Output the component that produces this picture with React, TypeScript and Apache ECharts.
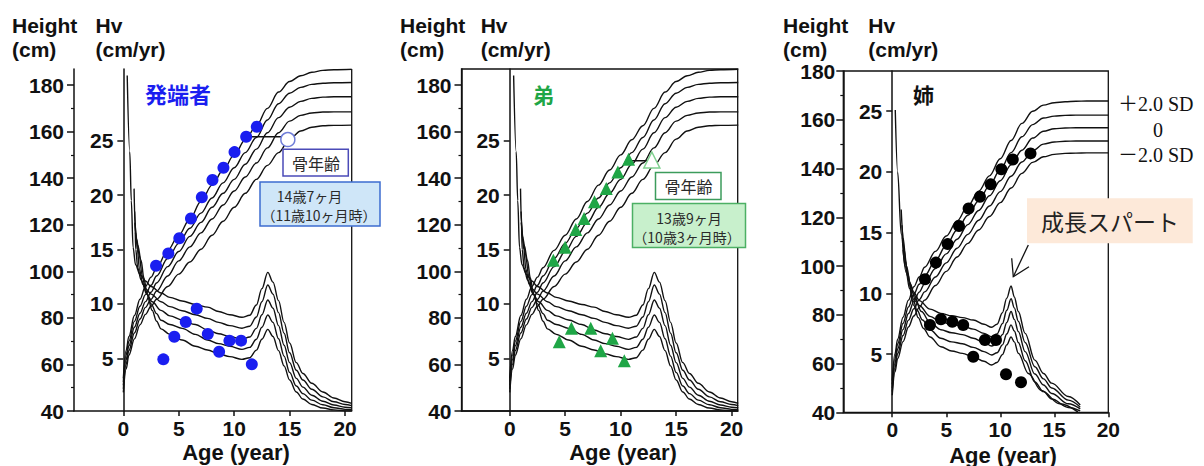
import React, { useEffect, useRef } from 'react';
import * as echarts from 'echarts';

// ---- tick labels ----
const AGE_TICKS = [0, 5, 10, 15, 20];
const HEIGHT_TICKS = [40, 60, 80, 100, 120, 140, 160, 180];
const HV_TICKS = [5, 10, 15, 20, 25];

// ---- boys reference height curves (cm) ----
const BOY_H_AGES = [0, 0.25, 0.5, 1, 1.5, 2, 2.5, 3, 4, 5, 6, 7, 8, 9, 10, 11, 12, 13, 14, 15, 16, 17, 18, 19, 20.6];
const BOY_H_P2 = [54, 66, 72, 81, 88, 93.5, 97.5, 101.5, 109, 115.5, 122.5, 130, 137, 143.5, 150, 156.5, 162.5, 170, 177, 181.5, 184, 185.5, 186.3, 186.6, 186.8];
const BOY_H_P1 = [52.5, 64, 70, 78.5, 85, 90, 94, 98, 105.5, 112, 118.5, 125, 131.5, 138, 144.5, 151, 157.5, 165, 172, 176.5, 179, 180.3, 180.8, 181, 181.1];
const BOY_H_0 = [51, 62, 68, 76, 82, 87, 91, 95, 102, 108.5, 115, 121, 127.5, 133.5, 139.5, 146, 152.5, 159.5, 166, 170.5, 173, 174.3, 174.8, 175, 175];
const BOY_H_M1 = [49.5, 60, 66, 73.5, 79.5, 84.5, 88, 91.5, 98, 104.5, 110.5, 116.5, 122.5, 128.5, 134.5, 140.5, 146.5, 153, 159.5, 164.5, 167, 168, 168.4, 168.5, 168.5];
const BOY_H_M2 = [48, 58, 64, 71, 77, 81.5, 85, 88, 93.5, 98.8, 104, 109.5, 115.5, 121.5, 127.5, 133.5, 139.5, 145.5, 151, 156.8, 160.3, 161.9, 162.5, 162.7, 162.8];

// ---- boys reference height velocity curves [age, cm/yr] ----
const BOY_V_P2 = [[0.35, 31], [0.58, 24], [0.72, 19.5], [0.88, 15.2], [1.1, 13.6], [1.5, 12.7], [2, 12.1], [2.5, 11.6], [3.4, 11.0], [4.2, 10.6], [5.3, 10.26], [6.5, 9.95], [7.6, 9.7], [8.6, 9.3], [9.6, 9.0], [10.7, 8.77], [11.4, 8.95], [12, 9.9], [12.5, 11.4], [13.03, 12.9], [13.5, 12.0], [14, 10.3], [14.5, 8.3], [15, 6.4], [15.6, 4.6], [16.2, 3.6], [17, 2.7], [18, 1.9], [19, 1.35], [20, 1.0], [20.6, 0.85]];
const BOY_V_P1 = [[0.97, 20.6], [1.05, 17.5], [1.12, 15], [1.3, 13.3], [1.6, 12.2], [2, 11.4], [2.5, 10.9], [3.4, 10.2], [4.2, 9.75], [5.3, 9.37], [6.5, 9.0], [7.6, 8.67], [8.6, 8.3], [9.6, 8.0], [10.7, 7.76], [11.4, 7.95], [12, 8.8], [12.5, 10.2], [13.03, 11.74], [13.5, 10.9], [14, 9.2], [14.5, 7.3], [15, 5.5], [15.6, 3.9], [16.2, 3.0], [17, 2.15], [18, 1.45], [19, 1.0], [20, 0.75], [20.6, 0.65]];
const BOY_V_0 = [[1.02, 18.5], [1.15, 16.2], [1.27, 15], [1.45, 13.2], [1.75, 11.8], [2.1, 10.9], [2.6, 10.2], [3.4, 9.4], [4.2, 8.9], [5.3, 8.52], [6.5, 8.1], [7.6, 7.6], [8.6, 7.25], [9.6, 7.0], [10.7, 6.74], [11.4, 6.95], [12, 7.75], [12.5, 9.0], [13.03, 10.36], [13.5, 9.6], [14, 8.0], [14.5, 6.2], [15, 4.6], [15.6, 3.15], [16.2, 2.35], [17, 1.6], [18, 1.05], [19, 0.7], [20, 0.5], [20.6, 0.45]];
const BOY_V_M1 = [[1.05, 17.5], [1.2, 16], [1.43, 14.5], [1.7, 12.6], [2.05, 11.1], [2.5, 10.0], [3.0, 9.1], [3.4, 8.5], [4.2, 8.1], [5.3, 7.75], [6.5, 7.2], [7.6, 6.68], [8.6, 6.35], [9.6, 6.1], [10.7, 5.82], [11.4, 6.0], [12, 6.75], [12.5, 7.85], [13.03, 8.98], [13.5, 8.3], [14, 6.8], [14.5, 5.2], [15, 3.7], [15.6, 2.45], [16.2, 1.75], [17, 1.15], [18, 0.72], [19, 0.45], [20, 0.3], [20.6, 0.28]];
const BOY_V_M2 = [[1.1, 16.5], [1.3, 15.4], [1.6, 14.0], [1.85, 12.4], [2.15, 10.9], [2.6, 9.4], [3.0, 8.4], [3.4, 7.7], [4.2, 7.2], [5.3, 6.68], [6.5, 6.1], [7.6, 5.76], [8.6, 5.4], [9.6, 5.15], [10.7, 4.9], [11.4, 5.05], [12, 5.75], [12.5, 6.75], [13.03, 7.66], [13.5, 7.0], [14, 5.7], [14.5, 4.3], [15, 3.0], [15.6, 1.9], [16.2, 1.25], [17, 0.75], [18, 0.42], [19, 0.25], [20, 0.16], [20.6, 0.15]];

// ---- girls reference height curves (cm) ----
const GIRL_H_AGES = [0, 0.25, 0.5, 1, 1.5, 2, 2.5, 3, 4, 5, 6, 7, 8, 9, 10, 11, 12, 13, 14, 15, 16, 17, 18, 20];
const GIRL_H_P2 = [53, 64, 70, 79, 86, 91.5, 95.5, 99.5, 106, 112.3, 118.5, 124.6, 130.7, 137, 144, 151.5, 158.5, 163.5, 166, 167, 167.4, 167.6, 167.7, 167.7];
const GIRL_H_P1 = [51.5, 62, 68, 76.5, 83.2, 88.5, 92.5, 96, 102.3, 108.5, 114.8, 120.8, 126.8, 133, 139.5, 146.5, 153, 158, 160.7, 161.5, 161.8, 161.9, 161.9, 161.9];
const GIRL_H_0 = [50, 60, 66, 74, 80.5, 85.5, 89.3, 92.8, 99, 105, 111, 117, 122.8, 128.8, 135, 141.5, 147.5, 152.5, 155.3, 156.3, 156.6, 156.7, 156.7, 156.7];
const GIRL_H_M1 = [48.5, 58.2, 64, 71.5, 77.8, 82.5, 86.2, 89.4, 95.5, 101.3, 107.3, 113, 118.8, 124.6, 130.5, 136.8, 142.7, 147.3, 150, 150.9, 151.2, 151.3, 151.3, 151.3];
const GIRL_H_M2 = [47, 56.5, 62, 69, 75, 79.5, 83, 86, 92, 97.8, 103.7, 109.3, 114.8, 120.3, 126, 132, 138, 142.5, 144.8, 145.8, 146.2, 146.3, 146.4, 146.4];

// ---- girls reference height velocity curves [age, cm/yr] ----
const GIRL_V_P2 = [[0.28, 25.1], [0.5, 20], [0.83, 14.9], [1.2, 12.2], [1.6, 10.9], [2, 10.1], [2.5, 9.4], [3.5, 8.7], [4.5, 8.35], [5.5, 8.15], [6.5, 8.0], [7.5, 7.8], [8.5, 7.45], [9.2, 7.2], [9.7, 7.45], [10.2, 8.4], [10.6, 9.6], [11.0, 10.6], [11.3, 9.7], [11.67, 8.5], [12.3, 6.7], [13.2, 4.5], [14, 3.4], [14.76, 2.6], [16.3, 1.5], [17.4, 0.8]];
const GIRL_V_P1 = [[0.83, 16.9], [1.0, 14.6], [1.3, 12.3], [1.7, 10.7], [2, 9.9], [2.5, 9.0], [3.5, 8.1], [4.5, 7.65], [5.5, 7.45], [6.5, 7.3], [7.5, 7.05], [8.5, 6.7], [9.2, 6.43], [9.7, 6.65], [10.2, 7.5], [10.6, 8.6], [11.0, 9.55], [11.3, 8.8], [11.67, 7.7], [12.3, 5.95], [13.2, 3.95], [14, 2.95], [14.76, 2.2], [16.3, 1.2], [17.4, 0.62]];
const GIRL_V_0 = [[0.9, 15.6], [1.1, 13.6], [1.4, 11.7], [1.8, 10.2], [2.2, 9.3], [2.7, 8.5], [3.5, 7.6], [4.5, 7.0], [5.5, 6.75], [6.5, 6.6], [7.5, 6.3], [8.5, 5.95], [9.2, 5.66], [9.7, 5.85], [10.2, 6.6], [10.6, 7.6], [11.0, 8.5], [11.3, 7.85], [11.67, 6.85], [12.3, 5.2], [13.2, 3.35], [14, 2.45], [14.76, 1.75], [16.3, 0.9], [17.4, 0.48]];
const GIRL_V_M1 = [[0.95, 14.6], [1.2, 12.7], [1.5, 11.1], [1.9, 9.6], [2.3, 8.6], [2.8, 7.8], [3.5, 7.0], [4.5, 6.3], [5.5, 6.0], [6.5, 5.85], [7.5, 5.55], [8.5, 5.2], [9.2, 4.92], [9.7, 5.1], [10.2, 5.75], [10.6, 6.65], [11.0, 7.4], [11.3, 6.9], [11.67, 5.95], [12.3, 4.45], [13.2, 2.7], [14, 1.9], [14.76, 1.3], [16.3, 0.6], [17.4, 0.32]];
const GIRL_V_M2 = [[1.0, 13.6], [1.3, 11.7], [1.6, 10.4], [2.0, 9.0], [2.4, 8.0], [2.9, 7.1], [3.5, 6.4], [4.5, 5.6], [5.5, 5.25], [6.5, 5.05], [7.5, 4.75], [8.5, 4.4], [9.2, 4.09], [9.7, 4.3], [10.2, 4.95], [10.6, 5.75], [11.0, 6.4], [11.3, 6.0], [11.67, 5.06], [12.6, 3.4], [13.8, 2.0], [15.5, 0.9], [17.2, 0.22]];

// ---- measured points ----
const PROBAND_HEIGHT = [[2.95, 102.4], [4.06, 107.7], [5.05, 114.2], [6.1, 122.7], [7.08, 131.8], [8.04, 139.2], [9.03, 144.5], [10.03, 151.2], [11.08, 157.8], [12.04, 162.1]];
const PROBAND_HV = [[3.61, 4.9], [4.6, 6.98], [5.63, 8.33], [6.62, 9.56], [7.62, 7.23], [8.64, 5.6], [9.57, 6.62], [10.62, 6.62], [11.59, 4.44]];
const PROBAND_BONE = [[14.84, 156.6]];
const PROBAND_BONE_LINK = [[11.08, 157.8], [14.4, 157.8]];

const BROTHER_HEIGHT = [[3.93, 104.8], [4.99, 110.3], [5.95, 118.0], [6.7, 122.7], [7.64, 129.9], [8.7, 135.6], [9.75, 142.7], [10.71, 148.1]];
const BROTHER_HV = [[4.46, 6.52], [5.56, 7.75], [7.3, 7.75], [8.2, 5.69], [9.26, 6.84], [10.33, 4.78]];
const BROTHER_BONE = [[12.81, 147.8]];
const BROTHER_BONE_LINK = [[10.71, 147.5], [12.5, 147.5]];

const SISTER_HEIGHT = [[3.03, 94.6], [4.04, 101.4], [5.13, 109.0], [6.18, 116.4], [7.07, 123.6], [8.12, 128.4], [9.11, 133.5], [10.1, 139.7], [11.16, 143.7], [12.8, 146.2]];
const SISTER_HV = [[3.49, 7.39], [4.51, 7.86], [5.56, 7.66], [6.57, 7.39], [7.5, 4.78], [8.58, 6.15], [9.6, 6.15], [10.53, 3.33], [11.92, 2.67]];

const SANS = "'Liberation Sans', Arial, Helvetica, sans-serif";
const JP = "'Noto Sans CJK JP', 'Liberation Sans', sans-serif";
const SERIF = "'Liberation Serif', 'Noto Sans CJK JP', serif";
const INK = '#111';
const BLUE = '#1a1ef0';
const GREEN = '#1fa646';

const zip = (ages: number[], vals: number[]) => ages.map((a, i) => [a, vals[i]]);

type Panel = {
  left: number; top: number; width: number; height: number;
  xMin: number; xMax: number; hMax: number; hvMin: number; hvMax: number;
  frame: boolean; hMargin: number;
  hCurves: number[][][]; vCurves: number[][][];
};

const PANELS: Panel[] = [
  {
    left: 74, top: 69, width: 277.7, height: 342, xMin: -4.45, xMax: 20.6, hMax: 186.9, hvMin: 0.15, hvMax: 31.6,
    frame: false, hMargin: 10,
    hCurves: [BOY_H_P2, BOY_H_P1, BOY_H_0, BOY_H_M1, BOY_H_M2].map((v) => zip(BOY_H_AGES, v)),
    vCurves: [BOY_V_P2, BOY_V_P1, BOY_V_0, BOY_V_M1, BOY_V_M2],
  },
  {
    left: 461.5, top: 69, width: 276.2, height: 342, xMin: -4.35, xMax: 20.55, hMax: 186.9, hvMin: 0.15, hvMax: 31.6,
    frame: true, hMargin: 10,
    hCurves: [BOY_H_P2, BOY_H_P1, BOY_H_0, BOY_H_M1, BOY_H_M2].map((v) => zip(BOY_H_AGES, v)),
    vCurves: [BOY_V_P2, BOY_V_P1, BOY_V_0, BOY_V_M1, BOY_V_M2],
  },
  {
    left: 843.3, top: 71, width: 265, height: 341.3, xMin: -4.53, xMax: 20, hMax: 180, hvMin: 0.2, hvMax: 28.31,
    frame: true, hMargin: 8,
    hCurves: [GIRL_H_P2, GIRL_H_P1, GIRL_H_0, GIRL_H_M1, GIRL_H_M2].map((v) => zip(GIRL_H_AGES, v)),
    vCurves: [GIRL_V_P2, GIRL_V_P1, GIRL_V_0, GIRL_V_M1, GIRL_V_M2],
  },
];

function buildOption() {
  const lineStyle = { color: INK, width: 1.5 };
  const label = { color: INK, fontSize: 21, fontWeight: 'bold' as const, fontFamily: SANS };
  const grid: any[] = [];
  const xAxis: any[] = [];
  const yAxis: any[] = [];
  const series: any[] = [];

  PANELS.forEach((p, i) => {
    grid.push({
      left: p.left, top: p.top, width: p.width, height: p.height,
      show: p.frame, borderColor: INK, borderWidth: 1.3, backgroundColor: 'transparent',
    });
    const zeroX = p.left + ((0 - p.xMin) / (p.xMax - p.xMin)) * p.width;
    xAxis.push({
      gridIndex: i, type: 'value', min: p.xMin, max: p.xMax,
      axisLine: { show: true, onZero: false, lineStyle },
      axisTick: { show: true, customValues: AGE_TICKS, length: 5, lineStyle },
      axisLabel: { ...label, customValues: AGE_TICKS, margin: 7 },
      splitLine: { show: false },
    });
    yAxis.push({
      gridIndex: i, type: 'value', min: 40, max: p.hMax, interval: 20, position: 'left',
      axisLine: { show: true, onZero: false, lineStyle },
      axisTick: { show: true, customValues: HEIGHT_TICKS, length: 7, lineStyle },
      minorTick: { show: true, splitNumber: 2, length: 3, lineStyle: { color: INK, width: 1.2 } },
      axisLabel: { ...label, customValues: HEIGHT_TICKS, margin: p.hMargin },
      splitLine: { show: false }, minorSplitLine: { show: false },
    });
    yAxis.push({
      gridIndex: i, type: 'value', min: p.hvMin, max: p.hvMax, position: 'left',
      offset: -(zeroX - p.left),
      axisLine: { show: true, onZero: false, lineStyle },
      axisTick: { show: true, customValues: HV_TICKS, length: 6, lineStyle },
      axisLabel: { ...label, customValues: HV_TICKS, margin: 10 },
      splitLine: { show: false },
    });
    const hIdx = i * 2;
    const vIdx = i * 2 + 1;
    p.hCurves.forEach((d) => series.push({
      type: 'line', xAxisIndex: i, yAxisIndex: hIdx, data: d, symbol: 'none', smooth: 0.35,
      smoothMonotone: 'x', lineStyle: { color: INK, width: 1.4 }, silent: true, z: 2,
    }));
    p.vCurves.forEach((d) => series.push({
      type: 'line', xAxisIndex: i, yAxisIndex: vIdx, data: d, symbol: 'none', smooth: 0.35,
      smoothMonotone: 'x', lineStyle: { color: INK, width: 1.4 }, silent: true, z: 2,
    }));
  });

  const dots = (i: number, y: number, data: number[][], color: string, symbol: string, size: number) => ({
    type: 'scatter', xAxisIndex: i, yAxisIndex: y, data, symbol, symbolSize: size,
    itemStyle: { color, opacity: 1 }, silent: true, z: 5,
  });
  const link = (i: number, data: number[][]) => ({
    type: 'line', xAxisIndex: i, yAxisIndex: i * 2, data, symbol: 'none',
    lineStyle: { color: INK, width: 1.4 }, silent: true, z: 4,
  });

  series.push(dots(0, 0, PROBAND_HEIGHT, BLUE, 'circle', 12));
  series.push(dots(0, 1, PROBAND_HV, BLUE, 'circle', 12));
  series.push(link(0, PROBAND_BONE_LINK));
  series.push({
    type: 'scatter', xAxisIndex: 0, yAxisIndex: 0, data: PROBAND_BONE, symbol: 'circle', symbolSize: 14,
    itemStyle: { color: '#fff', borderColor: '#6f7dd8', borderWidth: 1.5, opacity: 1 }, silent: true, z: 6,
  });

  series.push(dots(1, 2, BROTHER_HEIGHT, GREEN, 'triangle', 13));
  series.push(dots(1, 3, BROTHER_HV, GREEN, 'triangle', 13));
  series.push(link(1, BROTHER_BONE_LINK));
  series.push({
    type: 'scatter', xAxisIndex: 1, yAxisIndex: 2, data: BROTHER_BONE, symbol: 'triangle', symbolSize: 16,
    itemStyle: { color: '#fff', borderColor: '#7fd08f', borderWidth: 1.5, opacity: 1 }, silent: true, z: 6,
  });

  series.push(dots(2, 4, SISTER_HEIGHT, '#000', 'circle', 12));
  series.push(dots(2, 5, SISTER_HV, '#000', 'circle', 12));

  const txt = (x: number, y: number, text: string, o: any = {}) => ({
    type: 'text', x, y, z: 101, silent: true,
    style: {
      text, fill: o.fill || INK, fontSize: o.size || 21, fontWeight: o.weight || 'bold',
      fontFamily: o.family || SANS, align: o.align || 'left', verticalAlign: 'middle',
    },
  });
  const box = (x: number, y: number, w: number, h: number, fill: string, stroke?: string) => ({
    type: 'rect', z: 100, silent: true, shape: { x, y, width: w, height: h },
    style: { fill, stroke: stroke || 'none', lineWidth: stroke ? 1.5 : 0 },
  });
  const boxText = (x: number, y: number, text: string, size = 14) =>
    txt(x, y, text, { size, weight: 'normal', family: JP, align: 'center', fill: '#2a2a2a' });

  const graphic: any[] = [
    // axis titles
    txt(12, 25, 'Height'), txt(12, 49, '(cm)'), txt(95.5, 25, 'Hv'), txt(95.5, 49, '(cm/yr)'),
    txt(400, 25, 'Height'), txt(400, 49, '(cm)'), txt(480.7, 25, 'Hv'), txt(480.7, 49, '(cm/yr)'),
    txt(783, 25, 'Height'), txt(783, 49, '(cm)'), txt(868.3, 25, 'Hv'), txt(868.3, 49, '(cm/yr)'),
    txt(236, 452, 'Age (year)', { size: 22, align: 'center' }),
    txt(623, 452, 'Age (year)', { size: 22, align: 'center' }),
    txt(1003, 455, 'Age (year)', { size: 22, align: 'center' }),
    // panel 1 right border
    { type: 'line', z: 3, silent: true, shape: { x1: 351.7, y1: 69, x2: 351.7, y2: 411 }, style: { stroke: INK, lineWidth: 1.3 } },
    // panel titles
    txt(145, 93, '発端者', { size: 22, family: JP, fill: BLUE }),
    txt(533, 94, '弟', { size: 21, family: JP, fill: GREEN }),
    txt(913, 94, '姉', { size: 21, family: JP }),
    // panel 1 boxes
    box(283, 149.3, 65.3, 26.7, '#ffffff', '#4b4bb8'),
    boxText(316, 162.7, '骨年齢', 16),
    box(260, 182, 120, 44, '#cfe6f8', '#3d6cd0'),
    boxText(309.5, 195.5, '14歳7ヶ月'),
    boxText(319, 214.5, '（11歳10ヶ月時）'),
    // panel 2 boxes
    box(655.5, 172.5, 65.5, 27, '#ffffff', '#3c9c5c'),
    boxText(688.5, 186, '骨年齢', 16),
    box(632.5, 203.5, 113, 44, '#c8f0cc', '#4cb064'),
    boxText(689, 217.5, '13歳9ヶ月'),
    boxText(687, 236.5, '（10歳3ヶ月時）'),
    // panel 3 annotation
    box(1027, 198.3, 165.7, 45, '#fde9d9'),
    txt(1110, 221, '成長スパート', { size: 23, weight: 'normal', family: JP, align: 'center', fill: '#222' }),
    { type: 'polyline', z: 101, silent: true, shape: { points: [[1028.3, 245], [1013.3, 276.7]] }, style: { stroke: INK, lineWidth: 1.3, fill: 'none' } },
    { type: 'polyline', z: 101, silent: true, shape: { points: [[1011.7, 258.3], [1013.3, 276.7], [1029, 266.7]] }, style: { stroke: INK, lineWidth: 1.3, fill: 'none' } },
    txt(1118, 103.5, '＋2.0 SD', { size: 20, weight: 'normal', family: SERIF }),
    txt(1158, 130, '0', { size: 20, weight: 'normal', family: SERIF, align: 'center' }),
    txt(1118, 155, '－2.0 SD', { size: 20, weight: 'normal', family: SERIF }),
  ];

  return { animation: false, backgroundColor: '#fff', grid, xAxis, yAxis, series, graphic };
}

export default function App() {
  const ref = useRef<HTMLDivElement>(null);
  useEffect(() => {
    if (!ref.current) return;
    const chart = echarts.init(ref.current, undefined, { renderer: 'svg' });
    chart.setOption(buildOption() as any);
    return () => chart.dispose();
  }, []);
  return (
    <div
      ref={ref}
      style={{ position: 'fixed', left: 0, top: 0, width: 1204, height: 466, background: '#fff' }}
    />
  );
}
